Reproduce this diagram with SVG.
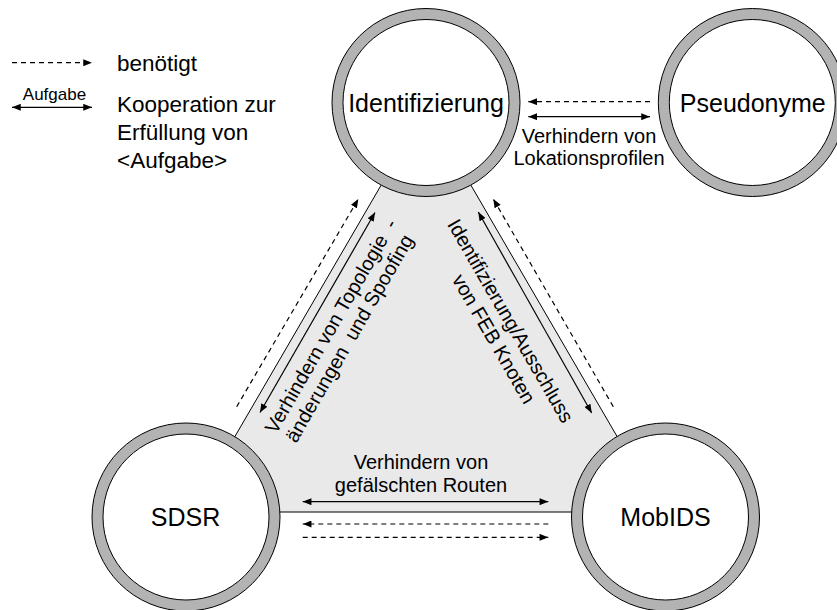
<svg xmlns="http://www.w3.org/2000/svg" width="837" height="610" viewBox="0 0 837 610">
  <defs>
    <marker id="head" viewBox="0 0 10 8" refX="10" refY="4" markerWidth="9" markerHeight="7" markerUnits="userSpaceOnUse" orient="auto-start-reverse">
      <path d="M0,0 L10,4 L0,8 z" fill="#000"/>
    </marker>
    <style>
      text { font-family: "Liberation Sans", Arial, sans-serif; fill: #000; }
      .node-label { font-size: 25px; text-anchor: middle; }
      .edge-label { font-size: 20px; text-anchor: middle; }
      .legend-text { font-size: 22.5px; }
      .ring { fill: #fff; stroke: #b3b3b3; stroke-width: 11; }
      .rim { fill: none; stroke: #000; stroke-width: 1; }
      .need { fill: none; stroke: #000; stroke-width: 1.2; stroke-dasharray: 5 4; marker-end: url(#head); }
      .coop { fill: none; stroke: #000; stroke-width: 1.2; marker-start: url(#head); marker-end: url(#head); }
    </style>
  </defs>

  <rect width="837" height="610" fill="#fff"/>

  <!-- shared area between the three protocol components -->
  <polygon id="core-area" points="426,108 191,512 661,512" fill="#e9e9e9" stroke="#000" stroke-width="1"/>

  <!-- legend -->
  <g id="legend">
    <line class="need" x1="12" y1="62.7" x2="92" y2="62.7"/>
    <text class="legend-text" x="117" y="71">benötigt</text>
    <line class="coop" x1="12" y1="107.3" x2="92" y2="107.3"/>
    <text x="54.5" y="100" font-size="17" text-anchor="middle">Aufgabe</text>
    <text class="legend-text" x="117" y="112">Kooperation zur</text>
    <text class="legend-text" x="117" y="140">Erfüllung von</text>
    <text class="legend-text" x="117" y="167.5">&lt;Aufgabe&gt;</text>
  </g>

  <!-- connectors -->
  <g id="connectors">
    <!-- Pseudonyme / Identifizierung -->
    <line class="need" x1="650" y1="101.7" x2="528.3" y2="101.7"/>
    <line class="coop" x1="528.3" y1="116.7" x2="650" y2="116.7"/>
    <text class="edge-label" x="589" y="142.7">Verhindern von</text>
    <text class="edge-label" x="589" y="165">Lokationsprofilen</text>

    <!-- SDSR / Identifizierung -->
    <line class="need" x1="236.7" y1="406.7" x2="358.3" y2="199"/>
    <line class="coop" x1="260" y1="412.5" x2="375" y2="212.5"/>
    <g transform="translate(340,340) rotate(-60)">
      <text class="edge-label" x="-1.5" y="-8">Verhindern von Topologie</text>
      <text class="edge-label" x="126" y="-8">-</text>
      <text class="edge-label" x="6" y="14" xml:space="preserve">änderungen  und Spoofing</text>
    </g>

    <!-- MobIDS / Identifizierung -->
    <line class="need" x1="613.3" y1="406.7" x2="493.3" y2="199"/>
    <line class="coop" x1="478.3" y1="212" x2="591.7" y2="413"/>
    <g transform="translate(500,330) rotate(60)">
      <text class="edge-label" x="-2.6" y="-6.9">Identifizierung/Ausschluss</text>
      <text class="edge-label" x="4.7" y="16.6">von FEB Knoten</text>
    </g>

    <!-- SDSR / MobIDS -->
    <line class="coop" x1="302.7" y1="501.7" x2="548.3" y2="501.7"/>
    <text class="edge-label" x="421" y="468.5">Verhindern von</text>
    <text class="edge-label" x="421" y="491.7">gefälschten Routen</text>
    <line class="need" x1="548.3" y1="524" x2="302.7" y2="524"/>
    <line class="need" x1="302.7" y1="537.3" x2="548.3" y2="537.3"/>
  </g>

  <!-- nodes -->
  <g id="node-identifizierung">
    <circle class="ring" cx="426" cy="102.5" r="88.5"/>
    <circle class="rim" cx="426" cy="102.5" r="94"/>
    <circle class="rim" cx="426" cy="102.5" r="83"/>
    <text class="node-label" x="426" y="111.7">Identifizierung</text>
  </g>

  <g id="node-pseudonyme">
    <circle class="ring" cx="752.3" cy="102.5" r="88.5"/>
    <circle class="rim" cx="752.3" cy="102.5" r="94"/>
    <circle class="rim" cx="752.3" cy="102.5" r="83"/>
    <text class="node-label" x="752.8" y="111.7">Pseudonyme</text>
  </g>

  <g id="node-sdsr">
    <circle class="ring" cx="186" cy="517" r="88.5"/>
    <circle class="rim" cx="186" cy="517" r="94"/>
    <circle class="rim" cx="186" cy="517" r="83"/>
    <text class="node-label" x="185.5" y="526">SDSR</text>
  </g>

  <g id="node-mobids">
    <circle class="ring" cx="665.5" cy="517" r="88.5"/>
    <circle class="rim" cx="665.5" cy="517" r="94"/>
    <circle class="rim" cx="665.5" cy="517" r="83"/>
    <text class="node-label" x="665.5" y="526">MobIDS</text>
  </g>
</svg>
